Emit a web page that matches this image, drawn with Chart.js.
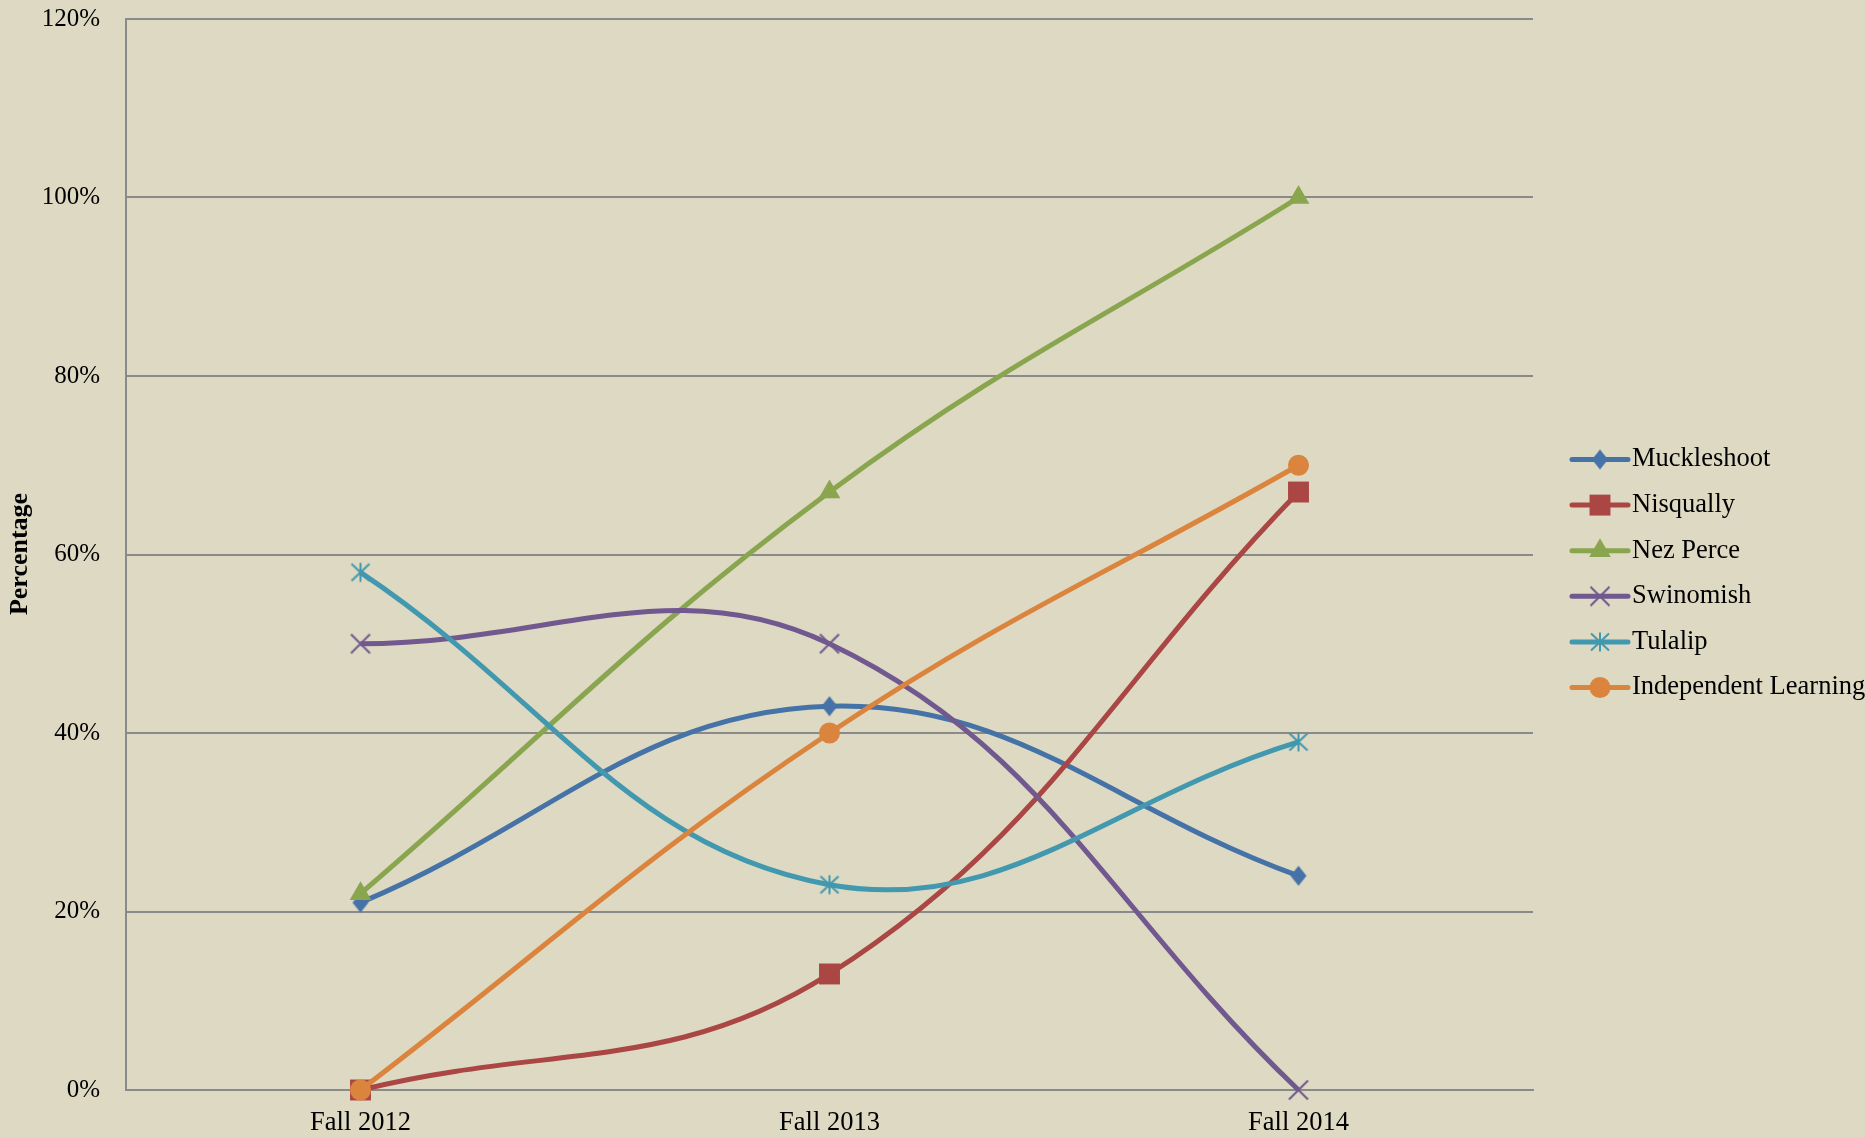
<!DOCTYPE html>
<html><head><meta charset="utf-8">
<script src="https://cdn.jsdelivr.net/npm/chart.js@4/dist/chart.umd.min.js"></script>
<style>html,body{margin:0;padding:0;background:#DDD9C3;} canvas{display:block;}</style>
</head><body>
<canvas id="c" width="1865" height="1138"></canvas>
<script>
const categories = ['Fall 2012', 'Fall 2013', 'Fall 2014'];
const seriesNames = ['Muckleshoot', 'Nisqually', 'Nez Perce', 'Swinomish', 'Tulalip', 'Independent Learning'];
const muckleshoot = [21, 43, 24];
const nisqually = [0, 13, 67];
const nezPerce = [22, 67, 100];
const swinomish = [50, 50, 0];
const tulalip = [58, 23, 39];
const independentLearning = [0, 40, 70];
const yTickValues = [0, 20, 40, 60, 80, 100, 120];
const axisTitle = 'Percentage';

const seriesValues = [muckleshoot, nisqually, nezPerce, swinomish, tulalip, independentLearning];
const colors = ['#4572A7', '#AA4643', '#89A54E', '#71588F', '#4198AF', '#DB843D'];
const FONT = '"Liberation Serif", "Times New Roman", serif';
const GRID = '#8a8a8a';

function makeMarker(kind, color) {
  const c = document.createElement('canvas');
  c.width = 30; c.height = 30;
  const g = c.getContext('2d');
  g.translate(15, 15);
  g.strokeStyle = color; g.fillStyle = color;
  g.lineWidth = 2;
  if (kind === 'diamond') {
    g.beginPath();
    g.moveTo(0, -10); g.lineTo(8, 0); g.lineTo(0, 10); g.lineTo(-8, 0); g.closePath();
    g.fill();
  } else if (kind === 'x') {
    g.beginPath();
    g.moveTo(-9.5, -9.5); g.lineTo(9.5, 9.5);
    g.moveTo(9.5, -9.5); g.lineTo(-9.5, 9.5);
    g.stroke();
  } else if (kind === 'star') {
    g.beginPath();
    g.moveTo(0, -9.5); g.lineTo(0, 9.5);
    g.moveTo(-9, -8.5); g.lineTo(9, 8.5);
    g.moveTo(9, -8.5); g.lineTo(-9, 8.5);
    g.stroke();
  }
  return c;
}

const pointStyles = [makeMarker('diamond', colors[0]), 'rect', 'triangle', makeMarker('x', colors[3]), makeMarker('star', colors[4]), 'circle'];
const pointRadii = [10, 14.8, 12.5, 10, 10, 10.5];

const datasets = seriesNames.map((name, i) => ({
  label: name,
  data: seriesValues[i],
  borderColor: colors[i],
  backgroundColor: colors[i],
  borderWidth: 5,
  pointStyle: pointStyles[i],
  pointRadius: pointRadii[i],
  pointHoverRadius: pointRadii[i],
  pointBackgroundColor: colors[i],
  pointBorderColor: colors[i],
  pointBorderWidth: 0,
  tension: 0.4,
  clip: false,
  order: seriesNames.length - i
}));

const bgPlugin = {
  id: 'bg',
  beforeDraw(chart) {
    const ctx = chart.ctx;
    ctx.save();
    ctx.fillStyle = '#DDD9C3';
    ctx.fillRect(0, 0, chart.width, chart.height);
    ctx.restore();
  }
};

const legendPlugin = {
  id: 'customLegend',
  afterDraw(chart) {
    const ctx = chart.ctx;
    const x0 = 1572, x1 = 1628, tx = 1632;
    const y0 = 459.5, dy = 45.6;
    ctx.save();
    seriesNames.forEach((name, i) => {
      const y = y0 + i * dy;
      ctx.strokeStyle = colors[i];
      ctx.lineWidth = 5;
      ctx.lineCap = 'round';
      ctx.beginPath();
      ctx.moveTo(x0, y);
      ctx.lineTo(x1, y);
      ctx.stroke();
      ctx.fillStyle = colors[i];
      ctx.strokeStyle = colors[i];
      ctx.lineWidth = 0;
      Chart.helpers.drawPoint(ctx, {pointStyle: pointStyles[i], radius: pointRadii[i], borderWidth: 0, rotation: 0}, (x0 + x1) / 2, y);
      ctx.fillStyle = '#000';
      ctx.font = '26.5px ' + FONT;
      ctx.textBaseline = 'middle';
      ctx.textAlign = 'left';
      ctx.fillText(name, tx, y);
    });
    ctx.translate(20, 554);
    ctx.rotate(-Math.PI / 2);
    ctx.font = 'bold 26px ' + FONT;
    ctx.fillStyle = '#000';
    ctx.textAlign = 'center';
    ctx.textBaseline = 'middle';
    ctx.fillText(axisTitle, 0, 0);
    ctx.restore();
  }
};

new Chart(document.getElementById('c'), {
  type: 'line',
  data: { labels: categories, datasets },
  options: {
    responsive: false,
    animation: false,
    devicePixelRatio: 1,
    layout: { autoPadding: false, padding: { left: 0, top: 19, right: 332, bottom: 0 } },
    plugins: { legend: { display: false }, tooltip: { enabled: false } },
    scales: {
      x: {
        offset: true,
        grid: { display: false, drawTicks: false },
        border: { display: true, color: GRID, width: 2 },
        ticks: { color: '#000', font: { family: FONT, size: 26.5 }, padding: 17 },
        afterFit(scale) { scale.height = 48; scale.paddingLeft = 0; scale.paddingRight = 0; }
      },
      y: {
        min: 0, max: 120,
        afterBuildTicks(scale) { scale.ticks = yTickValues.map(v => ({ value: v })); },
        grid: { color: GRID, lineWidth: 2, drawTicks: false },
        border: { display: true, color: GRID, width: 2 },
        ticks: { color: '#000', font: { family: FONT, size: 25 }, padding: 26, callback: v => v + '%' },
        afterFit(scale) { scale.width = 126; scale.paddingTop = 0; scale.paddingBottom = 0; }
      }
    }
  },
  plugins: [bgPlugin, legendPlugin]
});
</script>
</body></html>
